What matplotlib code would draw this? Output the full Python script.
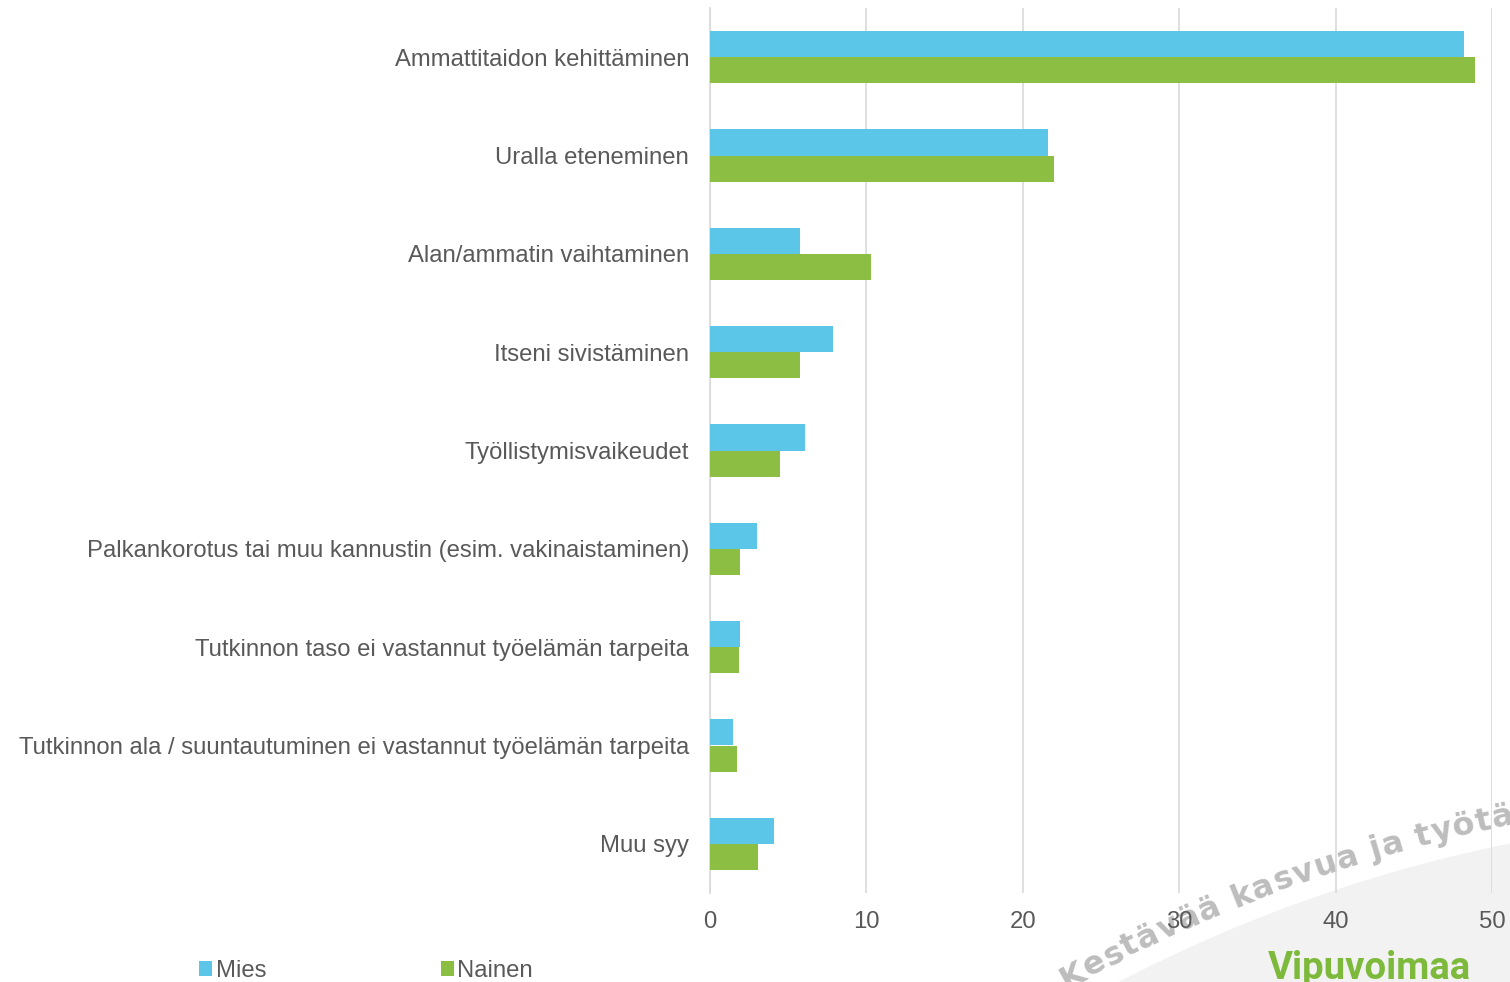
import numpy as np
import matplotlib
matplotlib.use("Agg")
import matplotlib.pyplot as plt
from matplotlib.patches import Circle
from matplotlib.transforms import IdentityTransform
from matplotlib import font_manager
from matplotlib.ft2font import FT2Font

# data
categories = [
    "Ammattitaidon kehittäminen",
    "Uralla eteneminen",
    "Alan/ammatin vaihtaminen",
    "Itseni sivistäminen",
    "Työllistymisvaikeudet",
    "Palkankorotus tai muu kannustin (esim. vakinaistaminen)",
    "Tutkinnon taso ei vastannut työelämän tarpeita",
    "Tutkinnon ala / suuntautuminen ei vastannut työelämän tarpeita",
    "Muu syy",
]
mies = [48.2, 21.6, 5.76, 7.88, 6.06, 3.0, 1.9, 1.49, 4.12]
nainen = [48.9, 22.0, 10.27, 5.78, 4.46, 1.94, 1.83, 1.75, 3.1]
series_names = ["Mies", "Nainen"]
x_ticks = [0, 10, 20, 30, 40, 50]

BLUE = "#5BC6E8"
GREEN = "#8CBE44"
TEXT = "#595959"
GRID = "#D9D9D9"
FS = 17.2

W, H = 1510, 982
fig = plt.figure(figsize=(W / 100, H / 100), dpi=100)
plt.rcParams["font.family"] = ["Liberation Sans", "DejaVu Sans"]

ax = fig.add_axes([710 / W, 1 - 893 / H, (1492 - 710) / W, (893 - 8) / H])
ax.set_facecolor("none")

y = np.arange(len(categories))
h = 0.265
ax.barh(y - h / 2, mies, height=h, color=BLUE, label=series_names[0], zorder=3)
ax.barh(y + h / 2, nainen, height=h, color=GREEN, label=series_names[1], zorder=3)

ax.set_ylim(len(categories) - 0.5, -0.5)
ax.set_xlim(0, 50)
ax.set_yticks(y)
ax.set_yticklabels(categories, fontsize=FS, color=TEXT)
ax.set_xticks(x_ticks)
ax.set_xticklabels([str(t) for t in x_ticks], fontsize=FS, color=TEXT)
ax.tick_params(axis="y", length=0, pad=15)
ax.tick_params(axis="x", length=0, pad=13)
ax.grid(axis="x", color=GRID, linewidth=1.2, zorder=0)
for side in ["top", "right", "bottom"]:
    ax.spines[side].set_visible(False)
ax.spines["left"].set_color(GRID)
ax.spines["left"].set_linewidth(1.2)

fig.legend(loc="center left", bbox_to_anchor=(199 / W, 1 - 971 / H), ncol=2,
           frameon=False, fontsize=FS, handlelength=0.55, handleheight=0.55,
           handletextpad=0.15, columnspacing=7.3, borderpad=0, borderaxespad=0,
           labelcolor=TEXT)

# watermark: grey swoosh with curved slogan and logo text
cx, cy = 1804, -1314
fig.patches.append(Circle((cx, cy), 1482, transform=IdentityTransform(),
                          facecolor="#F2F2F2", edgecolor="none", zorder=-2))

slogan = "Kestävää kasvua ja työtä"
size_pt = 23
fpath = font_manager.findfont(font_manager.FontProperties(family="DejaVu Sans", weight="bold"))
ft = FT2Font(fpath)
ft.set_size(size_pt, 100)
adv = []
for c in slogan:
    g = ft.load_char(ord(c))
    adv.append(g.linearHoriAdvance / 65536)
adv = np.array(adv)
# stretch so "estävää ... työtä" spans the measured arc
span = np.deg2rad(118.5 - 101.1) * 1500
scale = span / adv[1:].sum()
adv = adv * scale
R = 1500
theta0 = np.deg2rad(118.5) + adv[0] / R
s = 0.0
for c, a in zip(slogan, adv):
    phi = theta0 - (s + a / 2) / R
    px = cx + R * np.cos(phi)
    py = cy + R * np.sin(phi)
    fig.text(px, py, c, transform=IdentityTransform(), ha="center", va="baseline",
             rotation=np.rad2deg(phi) - 90, rotation_mode="anchor",
             fontsize=size_pt, fontweight="bold", family="DejaVu Sans",
             color="#BDBDBD", zorder=-1)
    s += a

fig.text(1268, 3, "Vipuvoimaa", transform=IdentityTransform(), ha="left", va="baseline",
         fontsize=27.5, fontweight="bold", family="Roboto", color="#7DBA3C", zorder=-1)

fig.savefig("out.png", dpi=100)
